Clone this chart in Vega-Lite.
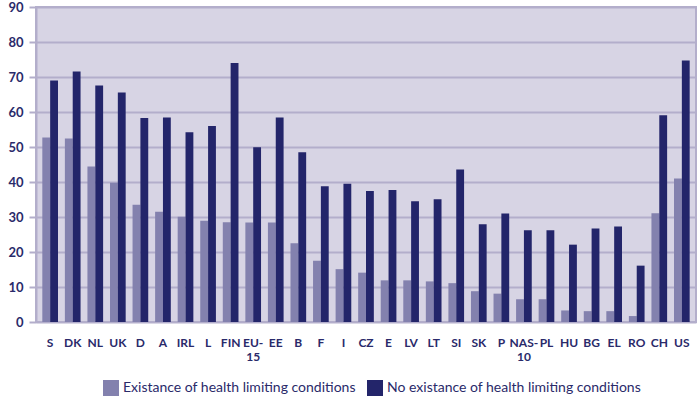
{
  "$schema": "https://vega.github.io/schema/vega-lite/v6.json",
  "autosize": {"type": "none"},
  "padding": {"left": 36, "top": 7, "right": 4, "bottom": 77},
  "width": 660,
  "height": 315,
  "background": "#ffffff",
  "config": {
    "view": {"fill": "#d7d4e4", "stroke": "#b3aecb", "strokeWidth": 2},
    "font": "Lato"
  },
  "datasets": {
    "rows": [
      {"country": "S", "series": "Existance of health limiting conditions", "value": 52.7},
      {"country": "S", "series": "No existance of health limiting conditions", "value": 69.0},
      {"country": "DK", "series": "Existance of health limiting conditions", "value": 52.4},
      {"country": "DK", "series": "No existance of health limiting conditions", "value": 71.6},
      {"country": "NL", "series": "Existance of health limiting conditions", "value": 44.4},
      {"country": "NL", "series": "No existance of health limiting conditions", "value": 67.6},
      {"country": "UK", "series": "Existance of health limiting conditions", "value": 39.8},
      {"country": "UK", "series": "No existance of health limiting conditions", "value": 65.6},
      {"country": "D", "series": "Existance of health limiting conditions", "value": 33.5},
      {"country": "D", "series": "No existance of health limiting conditions", "value": 58.3},
      {"country": "A", "series": "Existance of health limiting conditions", "value": 31.5},
      {"country": "A", "series": "No existance of health limiting conditions", "value": 58.4},
      {"country": "IRL", "series": "Existance of health limiting conditions", "value": 30.1},
      {"country": "IRL", "series": "No existance of health limiting conditions", "value": 54.2},
      {"country": "L", "series": "Existance of health limiting conditions", "value": 28.9},
      {"country": "L", "series": "No existance of health limiting conditions", "value": 56.0},
      {"country": "FIN", "series": "Existance of health limiting conditions", "value": 28.5},
      {"country": "FIN", "series": "No existance of health limiting conditions", "value": 74.0},
      {"country": "EU-15", "series": "Existance of health limiting conditions", "value": 28.4},
      {"country": "EU-15", "series": "No existance of health limiting conditions", "value": 49.9},
      {"country": "EE", "series": "Existance of health limiting conditions", "value": 28.4},
      {"country": "EE", "series": "No existance of health limiting conditions", "value": 58.4},
      {"country": "B", "series": "Existance of health limiting conditions", "value": 22.5},
      {"country": "B", "series": "No existance of health limiting conditions", "value": 48.5},
      {"country": "F", "series": "Existance of health limiting conditions", "value": 17.5},
      {"country": "F", "series": "No existance of health limiting conditions", "value": 38.8},
      {"country": "I", "series": "Existance of health limiting conditions", "value": 15.1},
      {"country": "I", "series": "No existance of health limiting conditions", "value": 39.5},
      {"country": "CZ", "series": "Existance of health limiting conditions", "value": 14.1},
      {"country": "CZ", "series": "No existance of health limiting conditions", "value": 37.4},
      {"country": "E", "series": "Existance of health limiting conditions", "value": 11.9},
      {"country": "E", "series": "No existance of health limiting conditions", "value": 37.7},
      {"country": "LV", "series": "Existance of health limiting conditions", "value": 11.9},
      {"country": "LV", "series": "No existance of health limiting conditions", "value": 34.5},
      {"country": "LT", "series": "Existance of health limiting conditions", "value": 11.6},
      {"country": "LT", "series": "No existance of health limiting conditions", "value": 35.1},
      {"country": "SI", "series": "Existance of health limiting conditions", "value": 11.1},
      {"country": "SI", "series": "No existance of health limiting conditions", "value": 43.6},
      {"country": "SK", "series": "Existance of health limiting conditions", "value": 8.8},
      {"country": "SK", "series": "No existance of health limiting conditions", "value": 27.9},
      {"country": "P", "series": "Existance of health limiting conditions", "value": 8.1},
      {"country": "P", "series": "No existance of health limiting conditions", "value": 31.0},
      {"country": "NAS-10", "series": "Existance of health limiting conditions", "value": 6.5},
      {"country": "NAS-10", "series": "No existance of health limiting conditions", "value": 26.2},
      {"country": "PL", "series": "Existance of health limiting conditions", "value": 6.5},
      {"country": "PL", "series": "No existance of health limiting conditions", "value": 26.2},
      {"country": "HU", "series": "Existance of health limiting conditions", "value": 3.3},
      {"country": "HU", "series": "No existance of health limiting conditions", "value": 22.1},
      {"country": "BG", "series": "Existance of health limiting conditions", "value": 3.1},
      {"country": "BG", "series": "No existance of health limiting conditions", "value": 26.7},
      {"country": "EL", "series": "Existance of health limiting conditions", "value": 3.1},
      {"country": "EL", "series": "No existance of health limiting conditions", "value": 27.3},
      {"country": "RO", "series": "Existance of health limiting conditions", "value": 1.7},
      {"country": "RO", "series": "No existance of health limiting conditions", "value": 16.1},
      {"country": "CH", "series": "Existance of health limiting conditions", "value": 31.1},
      {"country": "CH", "series": "No existance of health limiting conditions", "value": 59.1},
      {"country": "US", "series": "Existance of health limiting conditions", "value": 41.0},
      {"country": "US", "series": "No existance of health limiting conditions", "value": 74.7}
    ]
  },
  "data": {"name": "rows"},
  "mark": {"type": "bar"},
  "encoding": {
    "x": {
      "field": "country",
      "type": "nominal",
      "sort": null,
      "scale": {"paddingInner": 0.305, "paddingOuter": 0.28},
      "axis": {
        "title": null,
        "labelAngle": 0,
        "ticks": false,
        "domain": false,
        "labelPadding": 15,
        "labelFont": "Lato",
        "labelFontWeight": "bold",
        "labelFontSize": 12,
        "labelColor": "#2a2a6a",
        "labelLineHeight": 14,
        "labelBaseline": "top",
        "labelOverlap": false,
        "labelExpr": "datum.label == 'EU-15' ? ['EU-', '15'] : datum.label == 'NAS-10' ? ['NAS-', '10'] : datum.label"
      }
    },
    "xOffset": {
      "field": "series",
      "type": "nominal",
      "sort": ["Existance of health limiting conditions", "No existance of health limiting conditions"],
      "scale": {"paddingInner": 0, "paddingOuter": 0}
    },
    "y": {
      "field": "value",
      "type": "quantitative",
      "scale": {"domain": [0, 90], "nice": false},
      "axis": {
        "title": null,
        "values": [0, 10, 20, 30, 40, 50, 60, 70, 80, 90],
        "grid": true,
        "gridColor": "#b3aecb",
        "gridWidth": 2,
        "gridOpacity": 1,
        "domain": true,
        "domainColor": "#b3aecb",
        "domainWidth": 2,
        "ticks": true,
        "tickSize": 7,
        "tickColor": "#b3aecb",
        "tickWidth": 2,
        "labelPadding": 6,
        "labelFont": "Lato",
        "labelFontWeight": "bold",
        "labelFontSize": 13,
        "labelColor": "#2a2a6a"
      }
    },
    "color": {
      "field": "series",
      "type": "nominal",
      "sort": ["Existance of health limiting conditions", "No existance of health limiting conditions"],
      "scale": {
        "domain": ["Existance of health limiting conditions", "No existance of health limiting conditions"],
        "range": ["#8381ae", "#23256a"]
      },
      "legend": {
        "title": null,
        "orient": "none",
        "legendX": 67,
        "legendY": 373,
        "direction": "horizontal",
        "symbolType": "square",
        "symbolSize": 256,
        "symbolStrokeWidth": 0,
        "symbolOpacity": 1,
        "labelFont": "Lato",
        "labelFontSize": 14,
        "labelColor": "#2a2a6a",
        "labelOffset": 4,
        "columnPadding": 11,
        "padding": 0,
        "labelLimit": 400
      }
    }
  }
}
